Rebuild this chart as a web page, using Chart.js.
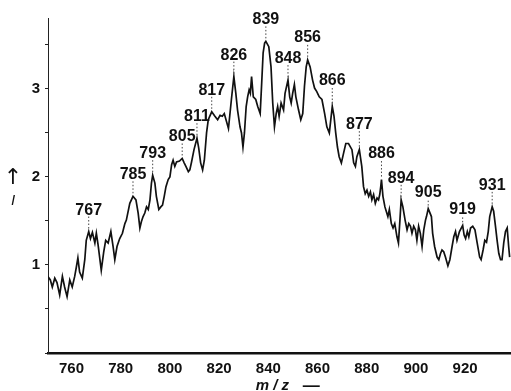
<!DOCTYPE html>
<html>
<head>
<meta charset="utf-8">
<script src="https://cdn.jsdelivr.net/npm/chart.js@4/dist/chart.umd.min.js"></script>
<style>
  html, body { margin: 0; padding: 0; background: #fff; }
  #wrap { width: 511px; height: 391px; position: relative; }
</style>
</head>
<body>
<div id="wrap"><canvas id="c" width="511" height="391"></canvas></div>
<script>
// Spectrum trace: m/z positions and relative intensity I
const mz = [
  749.7, 750.4, 751.4, 752.2, 753.2, 754.1, 755.2, 756.3, 757.2, 758.2,
  759.3, 760.3, 761.3, 762.0, 762.6, 763.3, 764.4, 765.4, 766.0, 767,
  767.7, 768.5, 769.5, 770.1, 770.8, 772.1, 773.1, 773.9, 774.9, 776.0,
  776.9, 777.6, 778.5, 779.6, 780.7, 781.7, 782.3, 783.7, 785, 786.2,
  787.1, 787.8, 788.4, 789.1, 789.8, 790.5, 791.2, 791.9, 792.5, 793,
  793.9, 794.5, 795.5, 796.3, 797.0, 797.7, 798.4, 799.3, 800.0, 800.7,
  801.3, 802.0, 802.7, 803.9, 805, 805.8, 806.5, 807.5, 808.1, 808.8,
  809.8, 811, 811.7, 812.5, 813.3, 814.0, 814.9, 815.6, 817, 818.3,
  819.4, 820.4, 821.3, 822.1, 823.8, 825.0, 826, 826.8, 827.5, 828.5,
  829.1, 829.7, 830.3, 831.0, 831.6, 832.2, 832.7, 833.2, 833.9, 834.9,
  835.7, 836.7, 837.3, 837.9, 838.5, 839, 840.2, 841.1, 841.8, 842.5,
  843.2, 843.8, 844.4, 845.2, 846.2, 846.8, 848, 848.7, 849.3, 849.9,
  850.6, 851.2, 852.3, 853.2, 854.0, 854.7, 855.4, 856, 857.0, 858.0,
  858.8, 859.7, 860.7, 861.8, 862.9, 863.8, 864.8, 866, 866.7, 867.4,
  868.1, 868.8, 869.7, 870.6, 871.5, 872.6, 874.0, 874.7, 875.4, 876.0,
  877, 878.0, 878.7, 879.4, 880.1, 880.8, 881.5, 882.1, 882.8, 883.5,
  884.2, 884.8, 885.3, 885.7, 886, 886.6, 887.4, 888.6, 889.2, 890.0,
  890.7, 891.4, 892.3, 892.9, 893.5, 894, 894.7, 895.6, 896.4, 897.1,
  897.8, 898.4, 899.1, 899.8, 900.4, 901.1, 901.8, 902.5, 903.2, 903.9,
  904.3, 905, 906.3, 906.8, 907.6, 908.6, 909.3, 910.0, 910.6, 911.3,
  912.0, 913.0, 913.8, 914.7, 915.4, 916.1, 916.7, 917.7, 919, 919.6,
  920.2, 920.9, 921.5, 922.2, 923.1, 924.0, 924.9, 925.9, 926.5, 927.3,
  928.0, 928.7, 929.4, 930.0, 931, 931.6, 932.3, 933.0, 933.7, 934.4,
  935.0, 935.7, 936.4, 937.1, 937.7, 938.1
];
const intensity = [
  0.96, 0.87, 0.83, 0.75, 0.85, 0.80, 0.66, 0.87, 0.75, 0.64,
  0.83, 0.75, 0.87, 0.98, 1.08, 0.92, 0.85, 1.06, 1.28, 1.38,
  1.30, 1.37, 1.25, 1.36, 1.23, 0.94, 1.15, 1.28, 1.25, 1.38,
  1.21, 1.06, 1.21, 1.30, 1.36, 1.47, 1.51, 1.70, 1.78, 1.74,
  1.59, 1.42, 1.49, 1.55, 1.59, 1.66, 1.63, 1.74, 1.93, 2.02,
  1.93, 1.78, 1.63, 1.66, 1.68, 1.78, 1.89, 1.97, 2.00, 2.14,
  2.19, 2.12, 2.17, 2.18, 2.21, 2.16, 2.12, 2.06, 2.08, 2.17,
  2.31, 2.44, 2.33, 2.16, 2.08, 2.19, 2.50, 2.65, 2.74, 2.69,
  2.65, 2.70, 2.69, 2.72, 2.55, 2.88, 3.14, 2.95, 2.76, 2.57,
  2.50, 2.34, 2.50, 2.80, 2.91, 2.99, 2.95, 3.14, 2.91, 2.88,
  2.80, 2.72, 3.06, 3.41, 3.52, 3.54, 3.48, 3.25, 2.84, 2.57,
  2.72, 2.80, 2.69, 2.84, 2.76, 2.95, 3.10, 2.91, 2.84, 2.95,
  3.05, 2.91, 2.76, 2.65, 2.72, 3.03, 3.25, 3.33, 3.25, 3.10,
  3.01, 2.97, 2.91, 2.88, 2.72, 2.57, 2.50, 2.80, 2.69, 2.50,
  2.34, 2.23, 2.16, 2.27, 2.38, 2.38, 2.31, 2.16, 2.12, 2.23,
  2.31, 2.12, 1.89, 1.81, 1.85, 1.78, 1.83, 1.74, 1.80, 1.70,
  1.76, 1.74, 1.80, 1.89, 1.97, 1.78, 1.66, 1.55, 1.63, 1.47,
  1.42, 1.47, 1.32, 1.25, 1.51, 1.74, 1.66, 1.51, 1.40, 1.47,
  1.44, 1.36, 1.44, 1.40, 1.28, 1.44, 1.36, 1.21, 1.40, 1.51,
  1.55, 1.64, 1.55, 1.36, 1.21, 1.09, 1.06, 1.13, 1.17, 1.15,
  1.09, 0.99, 1.06, 1.21, 1.32, 1.38, 1.28, 1.38, 1.45, 1.34,
  1.30, 1.38, 1.32, 1.42, 1.44, 1.40, 1.25, 1.09, 1.06, 1.17,
  1.28, 1.26, 1.38, 1.55, 1.66, 1.61, 1.45, 1.28, 1.13, 1.06,
  1.06, 1.25, 1.38, 1.42, 1.21, 1.09
];
// Annotated peaks (m/z)
const peakLabels = [767, 785, 793, 805, 811, 817, 826, 839, 848, 856, 866, 877, 886, 894, 905, 919, 931];
// Axis ticks
const xTicks = [760, 780, 800, 820, 840, 860, 880, 900, 920];
const yTicks = [0, 0.5, 1, 1.5, 2, 2.5, 3, 3.5];
const yTickLabels = { 1: '1', 2: '2', 3: '3' };

const FONT = '"Liberation Sans", Arial, Helvetica, sans-serif';

const peakNotes = {
  id: 'peakNotes',
  afterDatasetsDraw(chart, args, opts) {
    const ctx = chart.ctx;
    const meta = chart.getDatasetMeta(0);
    ctx.save();
    ctx.font = 'bold 16px ' + FONT;
    ctx.textAlign = 'center';
    ctx.textBaseline = 'alphabetic';
    ctx.fillStyle = '#111';
    peakLabels.forEach(p => {
      const i = mz.indexOf(p);
      if (i < 0) return;
      const pt = meta.data[i];
      const lift = (opts.lift && opts.lift[p]) || 0;
      const base = pt.y - 17 - lift;
      ctx.save();
      ctx.setLineDash([1.5, 2]);
      ctx.lineWidth = 1;
      ctx.strokeStyle = '#444';
      if (pt.y - 3 > base + 2) {
        ctx.beginPath();
        ctx.moveTo(pt.x, pt.y - 3);
        ctx.lineTo(pt.x, base + 2);
        ctx.stroke();
      }
      ctx.restore();
      ctx.fillText(String(p), pt.x, base);
    });
    ctx.restore();
  },
  afterDraw(chart) {
    const ctx = chart.ctx;
    const xs = chart.scales.x;
    ctx.save();
    ctx.fillStyle = '#111';
    // x-axis caption
    ctx.font = 'italic bold 15px ' + FONT;
    ctx.textAlign = 'left';
    ctx.textBaseline = 'alphabetic';
    const cx = xs.getPixelForValue(843);
    ctx.fillText('m / z', cx - 20, 390);
    ctx.font = 'bold 17px ' + FONT;
    ctx.fillText('—', cx + 27, 391);
    // y-axis caption: arrow above italic I
    ctx.textAlign = 'center';
    ctx.font = '22px "DejaVu Sans", sans-serif';
    ctx.fillText('↑', 13, 184);
    ctx.font = 'italic 15px ' + FONT;
    ctx.fillText('I', 13, 205);
    ctx.restore();
  }
};

new Chart(document.getElementById('c'), {
  type: 'line',
  data: {
    datasets: [{
      data: mz.map((m, i) => ({ x: m, y: intensity[i] })),
      borderColor: '#111',
      borderWidth: 1.7,
      pointRadius: 0,
      tension: 0,
      fill: false
    }]
  },
  options: {
    responsive: false,
    animation: false,
    layout: { padding: { top: 18.5, right: 0, left: 0, bottom: 0 } },
    plugins: {
      legend: { display: false },
      tooltip: { enabled: false },
      peakNotes: { lift: { 856: 1, 866: 5, 877: 4, 886: 5, 905: -5, 919: -6 } }
    },
    scales: {
      x: {
        type: 'linear',
        min: 750.45,
        max: 938.65,
        afterBuildTicks: s => { s.ticks = xTicks.map(v => ({ value: v })); },
        afterFit: s => { s.height = 38; },
        grid: { display: false, drawTicks: false },
        border: { display: true, color: '#111', width: 2.5 },
        ticks: {
          padding: 7,
          color: '#111',
          font: { family: FONT, size: 15, weight: 'bold' },
          maxRotation: 0,
          callback: v => String(v)
        }
      },
      y: {
        type: 'linear',
        min: 0,
        max: 3.8,
        afterBuildTicks: s => { s.ticks = yTicks.map(v => ({ value: v })); },
        afterFit: s => { s.width = 48; },
        grid: { display: true, drawOnChartArea: false, drawTicks: true, tickLength: 3, color: '#222', lineWidth: 1 },
        border: { display: true, color: '#222', width: 1, dash: [4, 2] },
        ticks: {
          padding: 5,
          color: '#111',
          font: { family: FONT, size: 15, weight: 'bold' },
          callback: v => yTickLabels[v] || ''
        }
      }
    }
  },
  plugins: [peakNotes]
});
</script>
</body>
</html>
